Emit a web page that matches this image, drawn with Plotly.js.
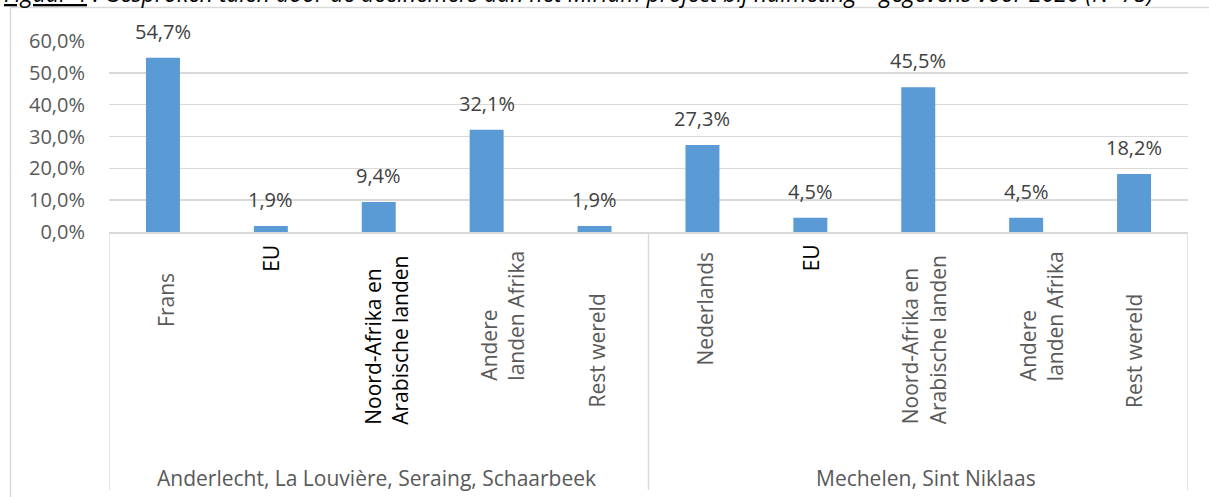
<!DOCTYPE html>
<html>
<head>
<meta charset="utf-8">
<script src="https://cdn.plot.ly/plotly-3.0.1.min.js"></script>
<style>
  html, body { margin: 0; padding: 0; background: #fff; }
  #chart { width: 1209px; height: 497px; }
</style>
</head>
<body>
<div id="chart"></div>
<script>
// ---- data ----
const groups = ["Anderlecht, La Louvière, Seraing, Schaarbeek", "Mechelen, Sint Niklaas"];
const categoriesGroup1 = ["Frans", "EU", "Noord-Afrika en<br>Arabische landen", "Andere<br>landen Afrika", "Rest wereld"];
const valuesGroup1 = [54.7, 1.9, 9.4, 32.1, 1.9];
const categoriesGroup2 = ["Nederlands", "EU", "Noord-Afrika en<br>Arabische landen", "Andere<br>landen Afrika", "Rest wereld"];
const valuesGroup2 = [27.3, 4.5, 45.5, 4.5, 18.2];
const yTickValues = [0, 10, 20, 30, 40, 50, 60];
const yTickLabels = ["0,0%", "10,0%", "20,0%", "30,0%", "40,0%", "50,0%", "60,0%"];
const caption = "<u>Figuur 4</u> : Gesproken talen door de deelnemers aan het Miriam project bij nulmeting – gegevens voor 2020 (N=75)";

// ---- styling helpers (not data) ----
const W = 1209, H = 497;
const PL = 109, PR = 1188, PT = 41, PB = 232;
const px2x = px => (px - PL) / (PR - PL);
const py2y = py => (PB - py) / (PB - PT);
const FONT = "Open Sans, Noto Sans, sans-serif";
const GREY = "#595959";
const LINE = "#d9d9d9";

const categories = categoriesGroup1.concat(categoriesGroup2);
const values = valuesGroup1.concat(valuesGroup2);
const xIdx = categories.map((_, i) => i);

// label placement (style): vertical centre in px, x shift, colour
const labelCenterPy = [300, 258, 340, 316, 351, 308, 258, 340, 316, 351];
const labelXShift = [3, 0, 7, 15, 2, 3, 1, 5, 15, 0];
const labelColor = [GREY, "#000", "#000", GREY, GREY, GREY, "#000", GREY, GREY, GREY];

const fmt = v => v.toFixed(1).replace(".", ",") + "%";

const trace = {
  type: "bar",
  x: xIdx,
  y: values,
  width: 0.315,
  marker: { color: "#5B9BD5" },
  hoverinfo: "skip"
};

const annotations = [];
// data labels
xIdx.forEach((i) => {
  annotations.push({
    x: i, y: values[i], xref: "x", yref: "y",
    text: fmt(values[i]), showarrow: false,
    xanchor: "center", yanchor: "bottom", yshift: 11,
    font: { family: FONT, size: 20, color: "#404040" }
  });
});
// category labels (rotated)
xIdx.forEach((i) => {
  annotations.push({
    x: i, xref: "x", y: py2y(labelCenterPy[i]), yref: "paper",
    text: categories[i], showarrow: false, textangle: -90,
    xanchor: "center", yanchor: "middle", align: "left",
    xshift: labelXShift[i],
    font: { family: FONT, size: 21, color: labelColor[i] }
  });
});
// group labels
const groupCentersPx = [376, 926];
groups.forEach((g, k) => {
  annotations.push({
    x: px2x(groupCentersPx[k]), xref: "paper", y: py2y(478), yref: "paper",
    text: g, showarrow: false, xanchor: "center", yanchor: "middle",
    font: { family: FONT, size: 21, color: GREY }
  });
});
// caption (mostly cut off at the top, as in the source)
annotations.push({
  x: px2x(2), xref: "paper", y: py2y(11.5), yref: "paper",
  text: caption, showarrow: false, xanchor: "left", yanchor: "bottom",
  font: { family: FONT, size: 23, color: "#000", style: "italic" }
});

const shapes = [];
// outer chart border (top + left)
shapes.push({ type: "line", xref: "paper", yref: "paper",
  x0: px2x(10.5), x1: px2x(1215), y0: py2y(7.5), y1: py2y(7.5),
  line: { color: LINE, width: 1.5 } });
shapes.push({ type: "line", xref: "paper", yref: "paper",
  x0: px2x(10.5), x1: px2x(10.5), y0: py2y(7.5), y1: py2y(505),
  line: { color: LINE, width: 1.5 } });
// category-area dividers
[-0.5, 4.5, 9.5].forEach(xv => {
  shapes.push({ type: "line", xref: "x", yref: "paper",
    x0: xv, x1: xv, y0: 0, y1: py2y(490),
    line: { color: LINE, width: 1.5 } });
});

const layout = {
  width: W, height: H,
  margin: { l: PL, r: W - PR, t: PT, b: H - PB, pad: 0 },
  paper_bgcolor: "#fff", plot_bgcolor: "#fff",
  showlegend: false,
  xaxis: {
    range: [-0.5, 9.5], showticklabels: false, ticks: "",
    showgrid: false, zeroline: false,
    showline: true, linecolor: LINE, linewidth: 1.5, fixedrange: true
  },
  yaxis: {
    range: [0, 60], tickvals: yTickValues, ticktext: yTickLabels,
    ticks: "", showgrid: true, gridcolor: LINE, gridwidth: 1.5,
    zeroline: false, showline: false, ticklabelstandoff: 23,
    tickfont: { family: FONT, size: 20, color: GREY }, fixedrange: true
  },
  annotations: annotations,
  shapes: shapes
};

Plotly.newPlot("chart", [trace], layout, { displayModeBar: false, staticPlot: true });
</script>
</body>
</html>
